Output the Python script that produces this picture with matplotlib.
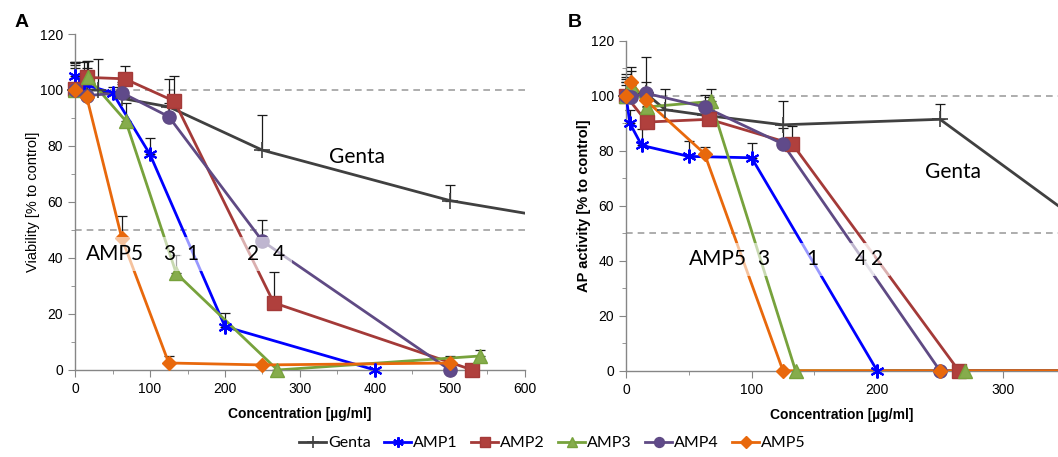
import numpy as np
import matplotlib
matplotlib.use("Agg")
import matplotlib.pyplot as plt
from matplotlib.lines import Line2D

# ---- data: panel A (viability) ----
genta_x_a = [0, 15.6, 31.25, 62.5, 125, 250, 500, 1000]
genta_y_a = [100, 100, 100, 97, 94, 78.5, 60.5, 38]
genta_e_a = [10, 8, 11, 5, 10, 12.5, 5.5, 0]

amp1_x_a = [0, 12.5, 50, 100, 200, 400]
amp1_y_a = [105, 102, 99, 77, 15.5, 0]
amp1_e_a = [5, 8, 2, 6, 5, 0]

amp2_x_a = [0, 16.6, 66.25, 132.5, 265, 530]
amp2_y_a = [100.5, 104.5, 104, 96, 24, 0]
amp2_e_a = [9, 6, 4.5, 9, 11, 0]

amp3_x_a = [0, 16.9, 67.5, 135, 270, 540]
amp3_y_a = [100, 104.5, 89, 34.5, 0, 5]
amp3_e_a = [8, 6, 6.5, 6.5, 0, 2]

amp4_x_a = [0, 15.6, 62.5, 125, 250, 500]
amp4_y_a = [100, 98, 99, 90.5, 46, 0]
amp4_e_a = [10, 6, 4, 5, 7.5, 3]

amp5_x_a = [0, 15.6, 62.5, 125, 250, 500]
amp5_y_a = [100, 97.5, 47, 2.5, 1.8, 2.5]
amp5_e_a = [9, 8, 8, 2.5, 0, 2.5]

# ---- data: panel B (AP activity) ----
genta_x_b = [0, 15.6, 31.25, 62.5, 125, 250, 500]
genta_y_b = [100, 101, 95, 93, 89.5, 91.5, 8]
genta_e_b = [7, 13, 7.5, 3, 8.5, 5.5, 0]

amp1_x_b = [0, 3.1, 12.5, 50, 100, 200, 400]
amp1_y_b = [100, 90, 82, 78, 77.5, 0, 0]
amp1_e_b = [6, 5, 6, 5.5, 5.5, 0, 0]

amp2_x_b = [0, 16.6, 66.25, 132.5, 265, 530]
amp2_y_b = [100, 90.5, 91.5, 82.5, 0, 0]
amp2_e_b = [5, 6, 8, 6.5, 0, 0]

amp3_x_b = [0, 4.2, 16.9, 67.5, 135, 270, 540]
amp3_y_b = [100, 104, 96, 98, 0, 0, 0]
amp3_e_b = [4, 5, 4, 4.5, 0, 0, 0]

amp4_x_b = [0, 3.9, 15.6, 62.5, 125, 250, 500]
amp4_y_b = [100, 99.5, 101, 96, 82.5, 0, 0]
amp4_e_b = [8, 5, 4, 4.5, 6, 0, 0]

amp5_x_b = [0, 3.9, 15.6, 62.5, 125, 250, 500]
amp5_y_b = [100, 105, 98.5, 79, 0, 0, 0]
amp5_e_b = [5, 5.5, 3, 2.5, 0, 0, 0]

names = ["Genta", "AMP1", "AMP2", "AMP3", "AMP4", "AMP5"]

# labels placed in the plots
labels_a = ["AMP5", "3", "1", "2", "4"]
labels_a_x = [53, 126, 157, 237, 272]
labels_b = ["AMP5", "3", "1", "4", "2"]
labels_b_x = [73, 109, 148, 187, 200]

# ---- styles ----
styles = {
    "Genta": dict(color="#404040", mfc="#404040", mec="#404040", marker="+", ms=11, mew=1.2),
    "AMP1": dict(color="#0000FF", mfc="#0000FF", mec="#0000FF", marker=(6, 2, 0), ms=10, mew=1.5),
    "AMP2": dict(color="#A43A38", mfc="#B0403D", mec="#A43A38", marker="s", ms=9.5, mew=1),
    "AMP3": dict(color="#77A23C", mfc="#86AC4C", mec="#77A23C", marker="^", ms=10, mew=1),
    "AMP4": dict(color="#5F4A84", mfc="#604A8A", mec="#5F4A84", marker="o", ms=9.5, mew=1),
    "AMP5": dict(color="#E8680C", mfc="#E8680C", mec="#E8680C", marker="D", ms=7.5, mew=1),
}

plt.rcParams["font.family"] = ["Liberation Sans", "DejaVu Sans"]

fig = plt.figure(figsize=(10.58, 4.57), dpi=100)
axA = fig.add_axes([0.0709, 0.1904, 0.4253, 0.7352])
axB = fig.add_axes([0.5917, 0.1888, 0.4083, 0.7215])


def draw(ax, series, xmax):
    for name, (x, y, e) in zip(names, series):
        x = np.array(x, float)
        y = np.array(y, float)
        e = np.array(e, float)
        st = styles[name]
        ax.plot(x, y, color=st["color"], lw=2, zorder=3, clip_on=True)
        m = x <= xmax
        ax.errorbar(x[m], y[m], yerr=[np.zeros(m.sum()), e[m]], fmt="none",
                    ecolor="#1a1a1a", elinewidth=0.9, capsize=3.5, capthick=0.9,
                    zorder=2, clip_on=False)
        ax.plot(x[m], y[m], ls="none", marker=st["marker"], ms=st["ms"],
                mfc=st["mfc"], mec=st["mec"], mew=st["mew"], zorder=4, clip_on=False)


def style_axes(ax, xmax, ylabel, yweight):
    ax.set_xlim(0, xmax)
    ax.set_ylim(0, 120)
    for s in ["top", "right"]:
        ax.spines[s].set_visible(False)
    for s in ["left", "bottom"]:
        ax.spines[s].set_color("#868686")
        ax.spines[s].set_linewidth(1)
    ax.set_yticks(np.arange(0, 121, 20))
    ax.set_yticks(np.arange(10, 121, 20), minor=True)
    ax.set_xticks(np.arange(0, xmax + 1, 100))
    ax.set_xticks(np.arange(50, xmax + 1, 100), minor=True)
    ax.tick_params(which="both", direction="out", color="#868686", labelsize=10)
    ax.tick_params(which="major", length=5)
    ax.tick_params(which="minor", length=3)
    ax.axhline(100, color="#A0A0A0", ls=(0, (4, 3)), lw=1.2, zorder=1)
    ax.axhline(50, color="#A0A0A0", ls=(0, (4, 3)), lw=1.2, zorder=1)
    ax.set_xlabel("Concentration [µg/ml]", fontweight="bold", fontsize=10, labelpad=8)
    ax.set_ylabel(ylabel, fontweight=yweight, fontsize=10.5, labelpad=0)


series_a = [(genta_x_a, genta_y_a, genta_e_a), (amp1_x_a, amp1_y_a, amp1_e_a),
            (amp2_x_a, amp2_y_a, amp2_e_a), (amp3_x_a, amp3_y_a, amp3_e_a),
            (amp4_x_a, amp4_y_a, amp4_e_a), (amp5_x_a, amp5_y_a, amp5_e_a)]
series_b = [(genta_x_b, genta_y_b, genta_e_b), (amp1_x_b, amp1_y_b, amp1_e_b),
            (amp2_x_b, amp2_y_b, amp2_e_b), (amp3_x_b, amp3_y_b, amp3_e_b),
            (amp4_x_b, amp4_y_b, amp4_e_b), (amp5_x_b, amp5_y_b, amp5_e_b)]

xmax_b = 344
style_axes(axA, 600, "Viability [% to control]", "normal")
style_axes(axB, xmax_b, "AP activity [% to control]", "bold")
draw(axA, series_a, 600)
draw(axB, series_b, xmax_b)

lbl_font = dict(family=["Lato", "DejaVu Sans"], fontsize=15, zorder=6,
                ha="center", va="center")
box = dict(fc="white", ec="none", alpha=0.6, pad=5)
for t, x in zip(labels_a, labels_a_x):
    axA.text(x, 41.5, t, bbox=box, **lbl_font)
for t, x in zip(labels_b, labels_b_x):
    axB.text(x, 40.5, t, bbox=box, **lbl_font)
axA.text(376, 76, "Genta", **lbl_font)
axB.text(260, 72.5, "Genta", **lbl_font)

fig.text(0.014, 0.951, "A", fontsize=14, fontweight="bold", va="center")
fig.text(0.537, 0.951, "B", fontsize=14, fontweight="bold", va="center")

handles = []
for name in names:
    st = styles[name]
    handles.append(Line2D([], [], color=st["color"], lw=2, marker=st["marker"],
                          ms=st["ms"] * 0.75, mfc=st["mfc"], mec=st["mec"], mew=st["mew"]))
fig.legend(handles, names, loc="center", bbox_to_anchor=(0.522, 0.03), ncol=6,
           frameon=False, handlelength=1.7, handletextpad=0.1, columnspacing=0.85,
           prop={"family": ["Lato", "DejaVu Sans"], "size": 11.5})

fig.savefig("out.png", dpi=100)
